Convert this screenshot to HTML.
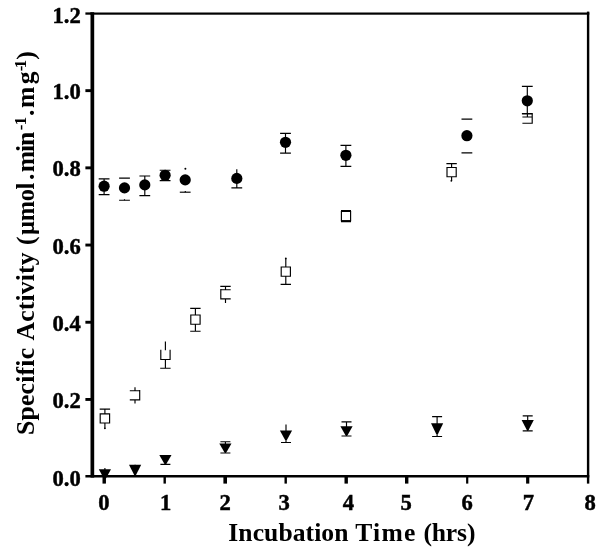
<!DOCTYPE html>
<html><head><meta charset="utf-8"><title>Specific Activity vs Incubation Time</title>
<style>
html,body{margin:0;padding:0;background:#fff;}
body{width:602px;height:552px;overflow:hidden;}
svg{display:block;}
text{font-family:"Liberation Serif","Times New Roman",Times,serif;font-weight:bold;fill:#000;}
.tk{font-size:22.6px;stroke:#000;stroke-width:0.45;}
.ttl{font-size:25.6px;}
.sup{font-size:17px;}
.eb{stroke:#000;stroke-width:1.15;fill:none;}
</style></head><body>
<svg width="602" height="552" viewBox="0 0 602 552">
<rect x="0" y="0" width="602" height="552" fill="#fff"/>

<g fill="#000">
<rect x="90.5" y="12.2" width="3.7" height="465.4"/>
<rect x="90.5" y="12.5" width="498.8" height="2.2"/>
<rect x="586.9" y="11.6" width="2.4" height="472"/>
<rect x="85.4" y="475" width="503.9" height="2.5"/>
<rect x="85.4" y="398.0" width="6" height="2.9"/>
<rect x="85.4" y="320.8" width="6" height="2.9"/>
<rect x="85.4" y="243.6" width="6" height="2.9"/>
<rect x="85.4" y="166.4" width="6" height="2.9"/>
<rect x="85.4" y="89.2" width="6" height="2.9"/>
<rect x="85.4" y="12.4" width="6" height="2.3"/>
<rect x="102.5" y="476" width="3.4" height="7.6"/>
<rect x="163.5" y="476" width="2.4" height="7.6"/>
<rect x="223.4" y="476" width="3.6" height="7.6"/>
<rect x="284.5" y="476" width="2.4" height="7.6"/>
<rect x="344.5" y="476" width="3.4" height="7.6"/>
<rect x="405.0" y="476" width="3.4" height="7.6"/>
<rect x="466.1" y="476" width="2.2" height="7.6"/>
<rect x="526.1" y="476" width="3.2" height="7.6"/>
</g>
<text class="tk" x="80.7" y="485.9" text-anchor="end">0.0</text>
<text class="tk" x="80.7" y="407.9" text-anchor="end">0.2</text>
<text class="tk" x="80.7" y="330.7" text-anchor="end">0.4</text>
<text class="tk" x="80.7" y="253.5" text-anchor="end">0.6</text>
<text class="tk" x="80.7" y="176.3" text-anchor="end">0.8</text>
<text class="tk" x="80.7" y="99.1" text-anchor="end">1.0</text>
<text class="tk" x="80.7" y="22.5" text-anchor="end">1.2</text>
<text class="tk" x="103.9" y="510.3" text-anchor="middle">0</text>
<text class="tk" x="165.7" y="510.3" text-anchor="middle">1</text>
<text class="tk" x="225.2" y="510.3" text-anchor="middle">2</text>
<text class="tk" x="284.2" y="510.3" text-anchor="middle">3</text>
<text class="tk" x="348.3" y="510.3" text-anchor="middle">4</text>
<text class="tk" x="406.1" y="510.3" text-anchor="middle">5</text>
<text class="tk" x="467.2" y="510.3" text-anchor="middle">6</text>
<text class="tk" x="528.5" y="510.3" text-anchor="middle">7</text>
<text class="tk" x="590.2" y="510.3" text-anchor="middle">8</text>
<text class="ttl"><tspan x="228.34" y="540.6" textLength="120.11" lengthAdjust="spacing">Incubation</tspan> <tspan x="355.30" y="540.6" textLength="60.06" lengthAdjust="spacing">Time</tspan> <tspan x="423.38" y="540.6" textLength="52.03" lengthAdjust="spacing">(hrs)</tspan></text>
<text class="ttl" transform="translate(34.4 0) rotate(-90)"><tspan x="-435.06" y="0.0" textLength="87.13" lengthAdjust="spacing">Specific</tspan> <tspan x="-340.55" y="0.0" textLength="88.18" lengthAdjust="spacing">Activity</tspan> <tspan x="-245.12" y="0.0">(</tspan><tspan x="-234.92" y="0.0" textLength="52.26" lengthAdjust="spacing" style="font-size:24.4px">µmol</tspan><tspan x="-180.03" y="0.0">.</tspan><tspan x="-172.29" y="0.0" textLength="40.57" lengthAdjust="spacing">min</tspan><tspan class="sup" x="-130.22" y="-8.4">-</tspan><tspan class="sup" x="-125.26" y="-8.4">1</tspan><tspan x="-116.03" y="0.0">.</tspan><tspan x="-108.09" y="0.0" textLength="36.55" lengthAdjust="spacing">mg</tspan><tspan class="sup" x="-71.22" y="-8.4">-</tspan><tspan class="sup" x="-68.16" y="-8.4">1</tspan><tspan x="-59.83" y="0.0">)</tspan></text>
<path class="eb" d="M104.1 178.9V194.6M98.7 178.9H109.5M98.7 194.6H109.5"/>
<circle cx="104.1" cy="186.2" r="5.6" fill="#000"/>
<path class="eb" d="M119.1 178.1H129.9M119.1 200.2H129.9"/>
<circle cx="124.5" cy="187.9" r="5.6" fill="#000"/>
<path class="eb" d="M144.8 176.0V195.6M139.4 176.0H150.2M139.4 195.6H150.2"/>
<circle cx="144.8" cy="184.9" r="5.6" fill="#000"/>
<path class="eb" d="M159.7 170.2H170.5M159.7 180.6H170.5"/>
<circle cx="165.1" cy="175.3" r="5.6" fill="#000"/>
<path class="eb" d="M179.8 192.2H190.6"/>
<circle cx="185.2" cy="179.9" r="5.6" fill="#000"/>
<path class="eb" d="M236.8 169.2V187.8M231.4 187.8H242.2"/>
<circle cx="236.8" cy="178.4" r="5.6" fill="#000"/>
<path class="eb" d="M285.5 133.3V153.1M280.1 133.3H290.9M280.1 153.1H290.9"/>
<circle cx="285.5" cy="142.3" r="5.6" fill="#000"/>
<path class="eb" d="M345.9 145.3V166.3M340.5 145.3H351.3M340.5 166.3H351.3"/>
<circle cx="345.9" cy="155.3" r="5.6" fill="#000"/>
<path class="eb" d="M461.5 119.1H472.3M461.5 152.9H472.3"/>
<circle cx="466.9" cy="135.7" r="5.6" fill="#000"/>
<path class="eb" d="M527.3 86.4V113.6M521.9 86.4H532.7M521.9 113.6H532.7"/>
<circle cx="527.3" cy="100.8" r="5.6" fill="#000"/>
<circle cx="185.4" cy="168.8" r="1" fill="#000"/>
<path class="eb" d="M185.3 192.2v-1.2M124.5 200.2v-1"/>
<rect x="100.2" y="413.8" width="9.3" height="9.2" fill="#fff"/>
<path class="eb" d="M104.9 409.1V413.8M104.9 423.0V428.4M99.7 409.1H110.1M99.7 413.8H110.1M99.7 423.0H110.1M100.2 413.2V423.6M109.6 413.2V423.6"/>
<rect x="130.3" y="390.7" width="9.3" height="9.2" fill="#fff"/>
<path class="eb" d="M135.0 387.2V390.7M135.0 399.9V403.4M129.8 390.7H140.2M129.8 399.9H140.2M139.7 390.1V400.5"/>
<rect x="160.8" y="350.3" width="9.3" height="9.2" fill="#fff"/>
<path class="eb" d="M165.4 341.4V350.3M165.4 359.5V368.2M160.2 368.2H170.6M160.2 359.5H170.6M160.8 349.7V360.1M170.1 349.7V360.1"/>
<rect x="190.8" y="315.0" width="9.3" height="9.2" fill="#fff"/>
<path class="eb" d="M195.4 308.4V315.0M195.4 324.2V331.2M190.2 308.4H200.6M190.2 331.2H200.6M190.2 315.0H200.6M190.2 324.2H200.6M190.8 314.4V324.8M200.1 314.4V324.8"/>
<rect x="220.8" y="289.7" width="9.3" height="9.2" fill="#fff"/>
<path class="eb" d="M225.5 286.4V289.7M225.5 298.9V302.9M220.3 286.4H230.7M220.3 289.7H230.7M220.3 298.9H230.7M220.8 289.1V299.5"/>
<rect x="281.2" y="267.0" width="9.3" height="9.2" fill="#fff"/>
<path class="eb" d="M285.8 258.3V267.0M285.8 276.2V284.4M280.6 284.4H291.0M280.6 267.0H291.0M280.6 276.2H291.0M281.2 266.4V276.8M290.4 266.4V276.8"/>
<rect x="341.4" y="211.5" width="9.3" height="9.2" fill="#fff"/>
<path class="eb" d="M346.0 211.0V211.5M346.0 220.7V221.0M340.8 211.5H351.2M340.8 220.7H351.2M341.4 210.9V221.2M350.6 210.9V221.2"/>
<rect x="447.0" y="167.5" width="9.3" height="9.2" fill="#fff"/>
<path class="eb" d="M451.6 163.6V167.5M451.6 176.7V180.9M446.4 163.6H456.8M446.4 167.5H456.8M446.4 176.7H456.8M447.0 166.9V177.2M456.2 166.9V177.2"/>
<rect x="523.0" y="114.0" width="9.3" height="9.2" fill="#fff"/>
<path class="eb" d="M522.4 117.0H532.8M522.4 114.0H532.8M522.4 123.2H532.8M532.2 113.5V123.7"/>
<g fill="#000"><circle cx="104.9" cy="428.3" r="0.9"/><circle cx="285.8" cy="258.4" r="0.9"/><circle cx="451.3" cy="180.8" r="0.9"/></g>
<path class="eb" d="M527.4 113.6V117"/>
<path d="M341 210.9H351M341 221.3H351" stroke="#000" stroke-width="1.9" fill="none"/>
<path class="eb" d="M104.9 468.0V483.0"/>
<polygon points="98.8,469.3 111.0,469.3 105.8,478.7 104.0,478.7" fill="#000"/>
<path class="eb" d="M135.1 464.8V475.0"/>
<polygon points="129.0,464.8 141.2,464.8 136.0,475.1 134.2,475.1" fill="#000"/>
<path class="eb" d="M165.4 455.0V464.3M160.4 464.3H170.4"/>
<polygon points="159.3,455.0 171.5,455.0 166.3,464.1 164.5,464.1" fill="#000"/>
<path class="eb" d="M225.4 441.7V453.0M220.4 441.7H230.4M220.4 453.0H230.4"/>
<polygon points="219.3,443.4 231.5,443.4 226.3,452.5 224.5,452.5" fill="#000"/>
<path class="eb" d="M286.0 424.6V442.5M281.0 442.5H291.0"/>
<polygon points="279.9,430.4 292.1,430.4 286.9,439.9 285.1,439.9" fill="#000"/>
<path class="eb" d="M346.5 421.8V436.0M341.5 421.8H351.5M341.5 436.0H351.5"/>
<polygon points="340.4,426.2 352.6,426.2 347.4,435.5 345.6,435.5" fill="#000"/>
<path class="eb" d="M437.1 416.6V436.5M432.1 416.6H442.1M432.1 436.5H442.1"/>
<polygon points="431.0,423.2 443.2,423.2 438.0,434.0 436.2,434.0" fill="#000"/>
<path class="eb" d="M527.7 415.8V430.8M522.7 415.8H532.7M522.7 430.8H532.7"/>
<polygon points="521.6,420.0 533.8,420.0 528.6,430.0 526.8,430.0" fill="#000"/>
</svg></body></html>
